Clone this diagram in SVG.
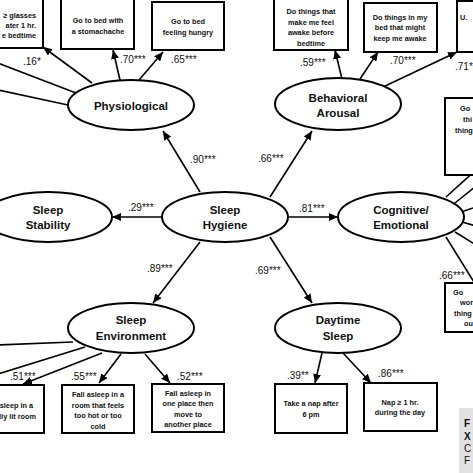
<svg xmlns="http://www.w3.org/2000/svg" width="473" height="473" viewBox="0 0 473 473">
<defs>
<marker id="ah" markerUnits="userSpaceOnUse" markerWidth="9" markerHeight="8" refX="9" refY="4" orient="auto">
<path d="M0,0 L9,4 L0,8 Z" fill="#000"/>
</marker>
<style>
.ell{fill:#fff;stroke:#000;stroke-width:2}
.box{fill:#fff;stroke:#000;stroke-width:2}
.et{font-family:"Liberation Sans",Arial,sans-serif;font-weight:bold;font-size:11.5px;text-anchor:middle;fill:#111}
.bt{font-family:"Liberation Sans",Arial,sans-serif;font-weight:bold;font-size:7.3px;text-anchor:middle;fill:#111}
.bs{font-family:"Liberation Sans",Arial,sans-serif;font-weight:bold;font-size:7.3px;fill:#111}
.lb{font-family:"Liberation Sans",Arial,sans-serif;font-size:10px;fill:#111}
.cn line{stroke:#000;stroke-width:1.6}
.cn line.a{marker-end:url(#ah)}
</style>
</defs>
<rect width="473" height="473" fill="#fff"/>

<g id="connectors" class="cn">
<line class="a" x1="120" y1="80" x2="113" y2="50"/>
<line class="a" x1="139" y1="80" x2="163" y2="52"/>
<line class="a" x1="92" y1="83" x2="43" y2="47"/>
<line x1="76" y1="93" x2="-2" y2="63"/>
<line x1="68" y1="105" x2="-2" y2="90"/>
<line class="a" x1="342" y1="79" x2="335" y2="50"/>
<line class="a" x1="360" y1="79" x2="378" y2="52"/>
<line class="a" x1="383" y1="87" x2="457" y2="52"/>
<line class="a" x1="200" y1="192" x2="163" y2="131"/>
<line class="a" x1="270" y1="197" x2="312" y2="131"/>
<line class="a" x1="162" y1="217" x2="112" y2="217"/>
<line class="a" x1="288" y1="217" x2="338" y2="217"/>
<line class="a" x1="200" y1="242" x2="153" y2="303"/>
<line class="a" x1="270" y1="237" x2="312" y2="303"/>
<line class="a" x1="121" y1="354" x2="99" y2="383"/>
<line class="a" x1="145" y1="354" x2="170" y2="383"/>
<line class="a" x1="102" y1="353" x2="23" y2="384"/>
<line x1="85" y1="347" x2="-2" y2="374"/>
<line x1="73" y1="342" x2="-2" y2="345"/>
<line class="a" x1="322" y1="353" x2="315" y2="383"/>
<line class="a" x1="343" y1="353" x2="371" y2="383"/>
<line x1="446" y1="197" x2="476" y2="170"/>
<line x1="455" y1="203" x2="476" y2="186"/>
<line x1="461" y1="212" x2="476" y2="207"/>
<line x1="462" y1="222" x2="476" y2="226"/>
<line x1="455" y1="232" x2="476" y2="245"/>
<line x1="446" y1="237" x2="474" y2="282"/>
</g>

<g id="lbls">
<text class="lb" x="23" y="65">.16*</text>
<text class="lb" x="120" y="63">.70***</text>
<text class="lb" x="171" y="63">.65***</text>
<text class="lb" x="300" y="66">.59***</text>
<text class="lb" x="390" y="64">.70***</text>
<text class="lb" x="455" y="70">.71*</text>
<text class="lb" x="190" y="163">.90***</text>
<text class="lb" x="258" y="162">.66***</text>
<text class="lb" x="128" y="211">.29***</text>
<text class="lb" x="299" y="212">.81***</text>
<text class="lb" x="147" y="272">.89***</text>
<text class="lb" x="255" y="274">.69***</text>
<text class="lb" x="439" y="279">.66***</text>
<text class="lb" x="10" y="380">.51***</text>
<text class="lb" x="71" y="380">.55***</text>
<text class="lb" x="177" y="380">.52***</text>
<text class="lb" x="287" y="379">.39**</text>
<text class="lb" x="378" y="377">.86***</text>
</g>

<g id="physiological"><ellipse class="ell" cx="131" cy="105" rx="63" ry="25"/><text class="et" x="131" y="110">Physiological</text></g>
<g id="behavioral"><ellipse class="ell" cx="338" cy="104" rx="63" ry="26"/><text class="et" x="338" y="102">Behavioral</text><text class="et" x="338" y="117">Arousal</text></g>
<g id="stability"><ellipse class="ell" cx="48" cy="217" rx="64" ry="25"/><text class="et" x="48" y="214">Sleep</text><text class="et" x="48" y="229">Stability</text></g>
<g id="hygiene"><ellipse class="ell" cx="225" cy="217" rx="63" ry="25"/><text class="et" x="225" y="214">Sleep</text><text class="et" x="225" y="229">Hygiene</text></g>
<g id="cognitive"><ellipse class="ell" cx="401" cy="217" rx="63" ry="25"/><text class="et" x="401" y="214">Cognitive/</text><text class="et" x="401" y="229">Emotional</text></g>
<g id="environment"><ellipse class="ell" cx="131" cy="328" rx="63" ry="25"/><text class="et" x="131" y="324">Sleep</text><text class="et" x="131" y="340">Environment</text></g>
<g id="daytime"><ellipse class="ell" cx="338" cy="328" rx="63" ry="25"/><text class="et" x="338" y="324">Daytime</text><text class="et" x="338" y="340">Sleep</text></g>

<g id="b-glasses"><rect class="box" x="-60" y="-5" width="103" height="53"/><text class="bs" x="36" y="18" text-anchor="end">≥ glasses</text><text class="bs" x="36" y="28" text-anchor="end">ater 1 hr.</text><text class="bs" x="36" y="38" text-anchor="end">e bedtime</text></g>
<g id="b-stomach"><rect class="box" x="61" y="-3" width="73" height="52"/><text class="bt" x="98" y="23">Go to bed with</text><text class="bt" x="98" y="34">a stomachache</text></g>
<g id="b-hungry"><rect class="box" x="152" y="2" width="72" height="48"/><text class="bt" x="188" y="24">Go to bed</text><text class="bt" x="188" y="35">feeling hungry</text></g>
<g id="b-awake"><rect class="box" x="274" y="-1" width="74" height="51"/><text class="bt" x="311" y="14">Do things that</text><text class="bt" x="311" y="25">make me feel</text><text class="bt" x="311" y="35">awake before</text><text class="bt" x="311" y="46">bedtime</text></g>
<g id="b-bed"><rect class="box" x="364" y="3" width="73" height="49"/><text class="bt" x="400" y="20">Do things in my</text><text class="bt" x="400" y="30">bed that might</text><text class="bt" x="400" y="41">keep me awake</text></g>
<g id="b-u"><rect class="box" x="457" y="1" width="30" height="51"/><text class="bs" x="460" y="20">U.</text></g>
<g id="b-go1"><rect class="box" x="445" y="98" width="40" height="77"/><text class="bs" x="460" y="111">Go</text><text class="bs" x="463" y="122">thi</text><text class="bs" x="455" y="133">thing</text></g>
<g id="b-go2"><rect class="box" x="445" y="283" width="40" height="49"/><text class="bs" x="453" y="295">Go</text><text class="bs" x="460" y="305">wor</text><text class="bs" x="454" y="316">thing</text><text class="bs" x="464" y="326">ou</text></g>
<g id="b-lit"><rect class="box" x="-40" y="385" width="84" height="48"/><text class="bs" x="33" y="408" text-anchor="end">sleep in a</text><text class="bs" x="36" y="419" text-anchor="end">lly lit room</text></g>
<g id="b-hot"><rect class="box" x="62" y="385" width="72" height="48"/><text class="bt" x="98" y="397">Fall asleep in a</text><text class="bt" x="98" y="408">room that feels</text><text class="bt" x="98" y="418">too hot or too</text><text class="bt" x="98" y="429">cold</text></g>
<g id="b-move"><rect class="box" x="152" y="384" width="72" height="48"/><text class="bt" x="188" y="396">Fall asleep in</text><text class="bt" x="188" y="406">one place then</text><text class="bt" x="188" y="417">move to</text><text class="bt" x="188" y="427">another place</text></g>
<g id="b-nap6"><rect class="box" x="275" y="384" width="72" height="49"/><text class="bt" x="311" y="406">Take a nap after</text><text class="bt" x="311" y="417">6 pm</text></g>
<g id="b-nap1"><rect class="box" x="364" y="383" width="73" height="48"/><text class="bt" x="400" y="405">Nap ≥ 1 hr.</text><text class="bt" x="400" y="415">during the day</text></g>

<g id="note"><rect x="459" y="408" width="20" height="70" fill="#e2e2e2"/>
<text x="464" y="427" font-family="Liberation Sans,Arial,sans-serif" font-size="10" font-weight="bold" fill="#111">F</text>
<text x="464" y="440" font-family="Liberation Sans,Arial,sans-serif" font-size="10" font-weight="bold" fill="#111">X</text>
<text x="464" y="452" font-family="Liberation Sans,Arial,sans-serif" font-size="10" fill="#111">C</text>
<text x="464" y="464" font-family="Liberation Sans,Arial,sans-serif" font-size="10" fill="#111">F</text>
</g>
</svg>
